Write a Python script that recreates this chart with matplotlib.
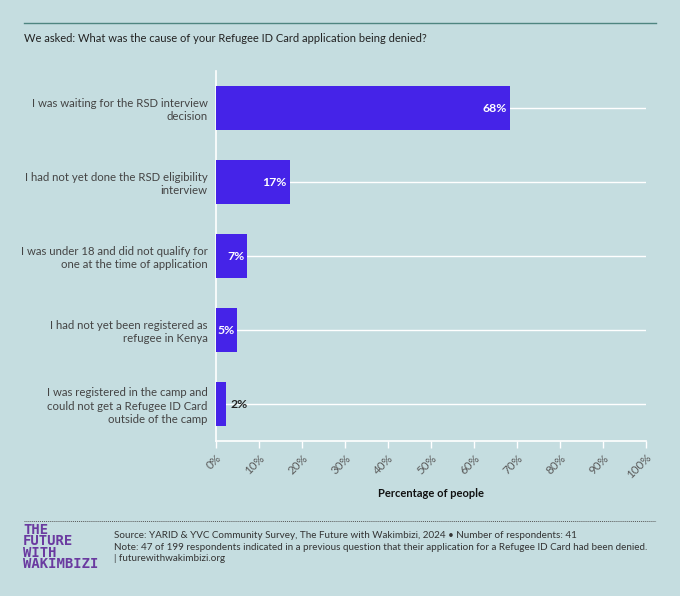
import matplotlib.pyplot as plt
from matplotlib.lines import Line2D

causes = [
    "I was waiting for the RSD interview\ndecision",
    "I had not yet done the RSD eligibility\ninterview",
    "I was under 18 and did not qualify for\none at the time of application",
    "I had not yet been registered as\nrefugee in Kenya",
    "I was registered in the camp and\ncould not get a Refugee ID Card\noutside of the camp",
]
shares = [68.3, 17.1, 7.3, 4.9, 2.4]
xticks = [0, 10, 20, 30, 40, 50, 60, 70, 80, 90, 100]

bg = "#c5dde0"
bar_col = "#4523e8"
plt.rcParams["font.family"] = ["Lato", "DejaVu Sans"]

fig = plt.figure(figsize=(6.8, 5.96), dpi=100, facecolor=bg)
ax = fig.add_axes([216 / 680, 1 - 441 / 596, 430 / 680, 370 / 596], facecolor=bg)

pos = list(range(len(causes)))
ax.barh(pos, shares, height=0.6, color=bar_col, zorder=3)
for p in pos:
    ax.axhline(p, color="white", lw=1, zorder=1)

for p, v in zip(pos, shares):
    txt = f"{round(v)}%"
    if v > 4:
        ax.text(v - 0.6, p, txt, ha="right", va="center", color="white",
                fontsize=8.8, fontweight="bold", zorder=4)
    else:
        ax.text(v + 1, p, txt, ha="left", va="center", color="#222222",
                fontsize=8.8, fontweight="bold", zorder=4)

ax.set_xlim(0, 100)
ax.set_ylim(4.5, -0.5)
ax.set_yticks(pos)
ax.set_yticklabels(causes, fontsize=8.2, color="#444444", linespacing=1.25)
ax.tick_params(axis="y", length=0, pad=6)
ax.set_xticks(xticks)
ax.set_xticklabels([f"{t}%" for t in xticks], rotation=45, ha="right",
                   rotation_mode="anchor", fontsize=8.4, color="#5a5a5a")
ax.tick_params(axis="x", length=5, color="white", width=1, pad=3)
for s in ["top", "right"]:
    ax.spines[s].set_visible(False)
ax.spines["left"].set_color("white")
ax.spines["bottom"].set_color("white")
ax.spines["left"].set_linewidth(1.2)
ax.spines["bottom"].set_linewidth(1.2)
ax.set_xlabel("Percentage of people", fontsize=8, fontweight="bold",
              color="#111111", labelpad=5)

fig.add_artist(Line2D([24 / 680, 656 / 680], [1 - 23 / 596] * 2,
                      color="#4f8580", lw=1))
fig.text(24 / 680, 1 - 38 / 596,
         "We asked: What was the cause of your Refugee ID Card application being denied?",
         fontsize=8.0, color="#222222", va="center")

fig.add_artist(Line2D([24 / 680, 656 / 680], [1 - 521 / 596] * 2,
                      color="#555555", lw=0.7, ls=(0, (1, 1))))
fig.text(23 / 680, 1 - 547 / 596, "THE\nFUTURE\nWITH\nWAKIMBIZI",
         fontsize=10, fontweight="bold", color="#6a3aa0",
         family="DejaVu Sans Mono", va="center", linespacing=0.78)
fig.text(114 / 680, 1 - 547 / 596,
         "Source: YARID & YVC Community Survey, The Future with Wakimbizi, 2024 \u2022 Number of respondents: 41\n"
         "Note: 47 of 199 respondents indicated in a previous question that their application for a Refugee ID Card had been denied.\n"
         "| futurewithwakimbizi.org",
         fontsize=7.15, color="#333333", va="center", linespacing=1.3)

fig.savefig("out.png", dpi=100, facecolor=bg)
